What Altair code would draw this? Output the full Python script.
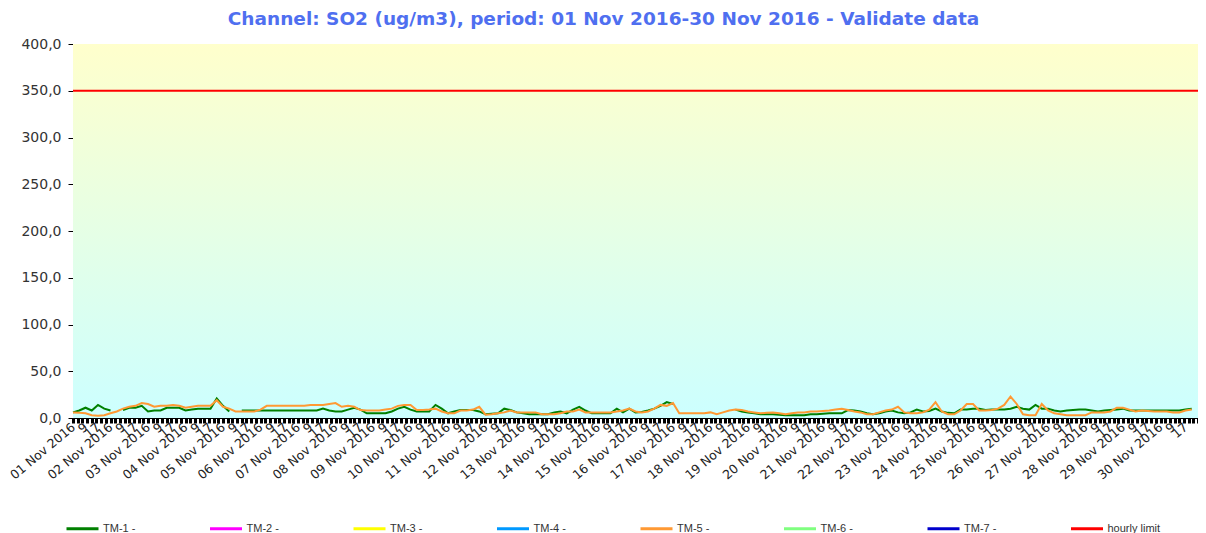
import altair as alt
import pandas as pd

# ---------------- data ----------------
series_names = ["TM-1 -", "TM-2 -", "TM-3 -", "TM-4 -", "TM-5 -", "TM-6 -", "TM-7 -", "hourly limit"]
series_colors = ["#008000", "#FF00FF", "#FFFF00", "#0099FF", "#FF9933", "#80FF80", "#0000CC", "#FF0000"]

start_time = "2016-11-01 00:00"
step = "4h"

tm1 = [6, 8, 11, 8, 14, 10,
       8, None, 8.5, 11, 11, 13,
       7, 8, 8, 11, 11, 11,
       8, 9, 10, 10, 10, 21,
       13, 7, None, 8, 8, 8,
       8, 8, 8, 8, 8, 8,
       8, 8, 8, 8, 10, 8,
       7, 7, 9,
       11, 9, 5, 5, 5, 5,
       7, 10, 12, 9, 7, 7,
       7, 14, 10, 5, 7, 8.5,
       8.5, 8.5, 7, 4, 4.5, 5,
       10, 8.5, 6, 5, 4, 4,
       4, 4, 6, 7, 5, 9,
       12, 8, 5, 5, 5, 5,
       10, 6, 10,
       6, 6.5, 8, 10, 13, 17, 15,
       None, None, None, None, None, None, None, None, None,
       9, 7, 6, 5, 4, 4,
       4, 3.5, 3, 3, 3, 3,
       4, 4, 4.5, 5, 5, 5,
       8.5, 8, 7, 5, 4, 5,
       7, 8, 6, 5, 6,
       9, 7, 7.5, 10, 7, 5.5,
       5, 9, 9, 10, 10, 8.5,
       9, 9, 9, 10, 12, 10,
       9, 14, 10, 10, 8, 7,
       8, 8.5, 9, 9, 8, 7,
       8, 8.5, 9, 10, 8, 8,
       8, 8, 8, 8, 8, 8,
       8, 9, 10]

tm5 = [6, 5.5, 5, 3, 2.5, 3,
       5, 7, 10, 12, 13, 16,
       15, 12, 13, 13, 14, 13,
       11, 12, 13, 13, 13, 19,
       12, 10, 7, 7, 7, 7,
       9, 13, 13, 13, 13, 13,
       13, 13, 14, 14, 14, 15,
       16, 12, 13,
       12, 8.5, 8, 8, 8, 9,
       10, 13, 14, 14, 8.5, 8.5,
       9, 10, 7, 5, 5, 8,
       8, 9, 12, 3.5, 4, 5,
       6, 8, 6, 6, 6, 6,
       4, 4, 4, 5, 7, 7,
       9, 6, 6, 6, 6, 6,
       7, 8, 10,
       7, 6, 7, 10, 14, 13, 16,
       5, 5, 5, 5, 5, 6, 4, 6, 8,
       9, 8.5, 7, 6, 5, 5.5,
       6, 5, 4, 5, 6, 6,
       7, 7, 7.5, 8, 9, 10,
       8.5, 7, 6, 4, 4, 6,
       8, 9, 12, 6, 5,
       5, 6, 9, 17, 7, 4,
       4, 8, 15, 15, 8, 8,
       8.5, 10, 14, 23, 15, 4,
       3, 3, 15, 8, 5, 4,
       3, 3, 3, 3, 6, 6,
       6, 7, 11, 11, 9, 7,
       8, 7.5, 7, 7, 7, 6,
       6, 8, 9]

hourly_limit = 350
y_ticks = [0, 50, 100, 150, 200, 250, 300, 350, 400]

# ---------------- tables ----------------
times = pd.date_range(start_time, periods=len(tm1), freq=step).strftime("%Y-%m-%dT%H:%M:%S")
lines_df = pd.concat([
    pd.DataFrame({"time": times, "value": tm1, "series": "TM-1 -", "order": 0}),
    pd.DataFrame({"time": times, "value": tm5, "series": "TM-5 -", "order": 1}),
])
limit_df = pd.DataFrame({"value": [hourly_limit], "series": ["hourly limit"]})
bg_df = pd.DataFrame({"t0": ["2016-11-01T00:00:00"], "t1": ["2016-12-01T00:00:00"],
                      "lo": [0], "hi": [400]})


def dt(hour_offset):
    d = 1 + hour_offset // 24
    if d > 30:
        return alt.DateTime(year=2016, month=12, date=d - 30, hours=hour_offset % 24)
    return alt.DateTime(year=2016, month=11, date=d, hours=hour_offset % 24)


tick_values = [dt(h) for h in range(0, 721, 3)]
label_values = [dt(h) for h in range(0, 720, 8)]

xscale = alt.Scale(domain=[dt(0), dt(720)])
yscale = alt.Scale(domain=[0, 400], nice=False)
color_scale = alt.Scale(domain=series_names, range=series_colors)

yaxis = alt.Axis(values=y_ticks, labelExpr="replace(format(datum.value, '.1f'), '.', ',')",
                 grid=True, gridColor="black", gridWidth=1, gridOpacity=1,
                 domainColor="black", tickColor="black", tickSize=5,
                 labelFont="DejaVu Sans", labelFontSize=14, labelColor="#333333",
                 labelPadding=7, title=None)

tick_axis = alt.Axis(values=tick_values, orient="bottom", labels=False, tickColor="black",
                     tickWidth=3, tickSize=5, grid=False, domainColor="black", title=None)

label_axis = alt.Axis(values=label_values, orient="bottom",
                      labelExpr="hours(datum.value) == 0 ? timeFormat(datum.value, '%d %b %Y') : toString(hours(datum.value) + 1)",
                      labelAngle=-40, labelAlign="right", labelBaseline="middle",
                      ticks=False, domain=False, grid=False, labelFont="DejaVu Sans",
                      labelFontSize=12.5, labelColor="#222222", labelPadding=7,
                      labelOverlap=False, labelFlush=False, title=None)

legend = alt.Legend(orient="none", legendX=-8, legendY=467, direction="horizontal", columns=8,
                    symbolType="stroke", symbolSize=1024, symbolStrokeWidth=3,
                    labelFont="Liberation Sans", labelFontSize=11, labelColor="#333333",
                    labelOffset=3, columnPadding=67.5, padding=0, title=None)

bg = alt.Chart(bg_df).mark_rect(
    color=alt.Gradient(gradient="linear",
                       stops=[alt.GradientStop(color="#FFFFCC", offset=0),
                              alt.GradientStop(color="#CCFFFF", offset=1)],
                       x1=0, x2=0, y1=0, y2=1)
).encode(
    x=alt.X("t0:T", scale=xscale, axis=tick_axis),
    x2="t1:T",
    y=alt.Y("lo:Q", scale=yscale, axis=yaxis),
    y2="hi:Q",
)

lines = alt.Chart(lines_df).mark_line(strokeWidth=2, invalid="break-paths-show-domains").encode(
    x=alt.X("time:T", scale=xscale, axis=label_axis),
    y=alt.Y("value:Q", scale=yscale, axis=yaxis),
    color=alt.Color("series:N", scale=color_scale, legend=legend),
    order="order:Q",
    detail="series:N",
)

limit = alt.Chart(limit_df).mark_rule(strokeWidth=2).encode(
    y=alt.Y("value:Q", scale=yscale, axis=yaxis),
    color=alt.Color("series:N", scale=color_scale, legend=legend),
)

chart = alt.layer(bg, lines, limit).resolve_axis(x="independent").properties(
    width=1125,
    height=374,
    autosize=alt.AutoSizeParams(type="none"),
    padding={"left": 65, "top": 36, "right": 0, "bottom": 115},
    title=alt.TitleParams(
        "Channel: SO2 (ug/m3), period: 01 Nov 2016-30 Nov 2016 - Validate data",
        font="DejaVu Sans", fontSize=18.5, fontWeight="bold", color="#4F6FF0",
        anchor="middle", dx=-32, offset=9),
).configure_view(strokeWidth=0)

chart.save("out.html", embed_options={"renderer": "svg", "actions": False})
